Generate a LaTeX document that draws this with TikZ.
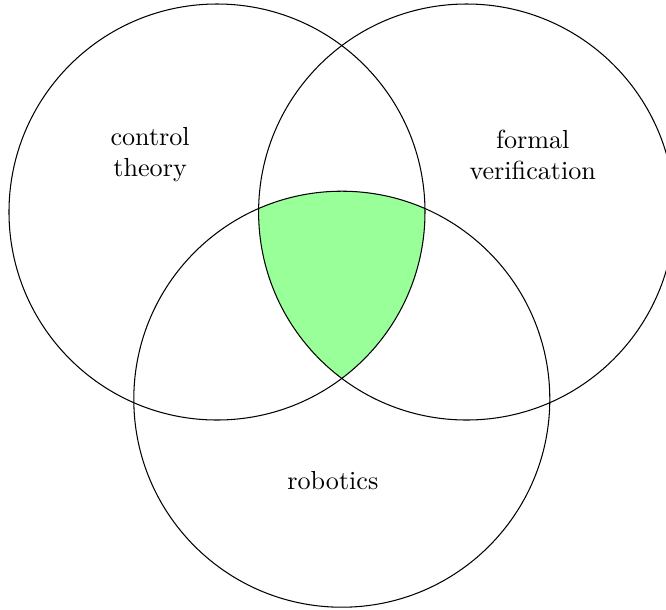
\documentclass[tikz,border=0pt]{standalone}
\usepackage{tikz}
\usepackage{xcolor}

\begin{document}
\begin{tikzpicture}
  \useasboundingbox (-2.921,-5.357) rectangle (6.044,2.854);
  % circle centres
  \coordinate (ctrl) at (0,0);
  \coordinate (form) at (3.36,0);
  \coordinate (robo) at (1.68,-2.52);
  % common region of all three
  \begin{scope}
    \clip (ctrl) circle (2.8);
    \clip (form) circle (2.8);
    \fill[green!40] (robo) circle (2.8);
  \end{scope}
  \draw (ctrl) circle (2.8);
  \draw (form) circle (2.8);
  \draw (robo) circle (2.8);
  \node[align=center] (ctrltext) at (-0.90,0.77) {control\\theory};
  \node[align=center] (formtext) at (4.25,0.77) {formal\\verification};
  \node (robotext) at (1.56,-3.62) {robotics};
\end{tikzpicture}
\end{document}
